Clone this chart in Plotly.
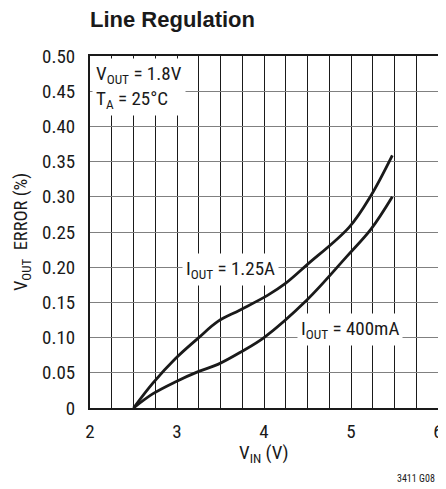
import plotly.graph_objects as go

# Data
vin_125 = [2.5, 2.72, 2.98, 3.25, 3.47, 3.72, 4.04, 4.247, 4.49, 4.98, 5.23, 5.475]
err_125 = [0.0, 0.035, 0.070, 0.100, 0.123, 0.139, 0.160, 0.177, 0.203, 0.257, 0.302, 0.359]
vin_400 = [2.5, 2.72, 2.98, 3.25, 3.47, 3.74, 4.0, 4.49, 4.95, 5.23, 5.475]
err_400 = [0.0, 0.020, 0.037, 0.052, 0.062, 0.080, 0.100, 0.153, 0.215, 0.254, 0.300]

x_ticks = [2, 3, 4, 5, 6]
y_ticks = [0, 0.05, 0.10, 0.15, 0.20, 0.25, 0.30, 0.35, 0.40, 0.45, 0.50]
y_tick_text = ["0", "0.05", "0.10", "0.15", "0.20", "0.25", "0.30", "0.35", "0.40", "0.45", "0.50"]

FONT = "Roboto Condensed, Liberation Sans Narrow, Arial Narrow, sans-serif"
TITLE_FONT = "Liberation Sans, Arial, sans-serif"
INK = "#1a1a1a"

fig = go.Figure()
for xs, ys in [(vin_125, err_125), (vin_400, err_400)]:
    fig.add_trace(go.Scatter(x=xs, y=ys, mode="lines",
                             line=dict(color=INK, width=2.8, shape="spline", smoothing=1.0),
                             showlegend=False, hoverinfo="skip"))

fig.update_layout(
    width=438, height=481,
    margin=dict(l=82, r=3, t=48, b=81),
    paper_bgcolor="white", plot_bgcolor="white",
    font=dict(family=FONT, size=19, color=INK),
    xaxis=dict(range=[2, 6], tickvals=x_ticks, ticktext=[str(v) for v in x_ticks],
               showgrid=True, gridcolor=INK, gridwidth=1.3,
               minor=dict(dtick=0.25, tick0=2, showgrid=True, gridcolor=INK, gridwidth=1.3),
               showline=True, linecolor=INK, linewidth=2, mirror=True,
               ticks="", zeroline=False, ticklabelstandoff=5, fixedrange=True),
    yaxis=dict(range=[0, 0.5], tickvals=y_ticks, ticktext=y_tick_text,
               showgrid=True, gridcolor="#808080", gridwidth=1.3,
               showline=True, linecolor=INK, linewidth=2, mirror=True,
               ticks="", zeroline=False, ticklabelstandoff=9, fixedrange=True),
    annotations=[
        dict(text="<b>Line Regulation</b>", xref="paper", yref="paper", x=0, y=1, xanchor="left", yanchor="bottom",
             xshift=-2, yshift=22, showarrow=False, font=dict(size=22, family=TITLE_FONT)),
        dict(text="V<sub>OUT</sub> = 1.8V<br>T<sub>A</sub> = 25°C", xref="paper", yref="paper", x=0, y=1,
             xanchor="left", yanchor="top", align="left", showarrow=False, bgcolor="white",
             xshift=2, yshift=-2, borderpad=3, font=dict(size=19, family=FONT)),
        dict(text="I<sub>OUT</sub> = 1.25A", x=3.615, y=0.197, showarrow=False, bgcolor="white",
             borderpad=3, font=dict(size=19, family=FONT)),
        dict(text="I<sub>OUT</sub> = 400mA", x=4.99, y=0.111, showarrow=False, bgcolor="white",
             borderpad=3, font=dict(size=19, family=FONT)),
        dict(text="V<sub>OUT</sub>  ERROR (%)", xref="paper", yref="paper", x=0, y=0.5, xanchor="center", yanchor="middle",
             xshift=-68, textangle=-90, showarrow=False, font=dict(size=18.5, family=FONT)),
        dict(text="V<sub>IN</sub> (V)", xref="paper", yref="paper", x=0.5, y=0, xanchor="center", yanchor="middle",
             yshift=-45, showarrow=False, font=dict(size=19, family=FONT)),
        dict(text="3411 G08", xref="paper", yref="paper", x=1, y=0, xanchor="right", yanchor="middle",
             xshift=-1, yshift=-70, showarrow=False, font=dict(size=10, family=FONT)),
    ],
)

fig.write_html("out.html")
